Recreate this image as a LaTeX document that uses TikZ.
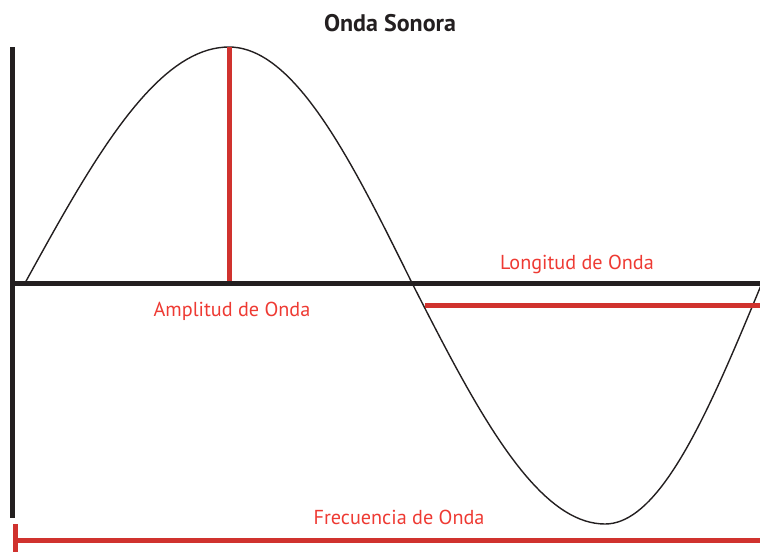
\documentclass[tikz,border=0pt]{standalone}
\usepackage{fontspec}
\setmainfont{PT Sans}
\definecolor{axisblack}{HTML}{231F20}
\definecolor{barred}{HTML}{D0322E}
\definecolor{labelred}{HTML}{EE3A33}
\begin{document}
\begin{tikzpicture}[x=1pt,y=-1pt,
  axis/.style={draw=axisblack,line width=5pt},
  redbar/.style={draw=barred,line width=5pt},
  wave/.style={draw=axisblack,line width=1.4pt},
  lbl/.style={text=labelred,font=\fontsize{20.2}{22}\selectfont,anchor=base,inner sep=0pt},
  ttl/.style={text=axisblack,font=\fontsize{24}{26}\selectfont\bfseries,anchor=base,inner sep=0pt}]
\useasboundingbox (0,0) rectangle (760,552);
% coordinates
\coordinate (vtop) at (12.5,47);
\coordinate (vbot) at (12.5,518);
\coordinate (hl) at (10,283);
\coordinate (hr) at (760,283);
\coordinate (atop) at (229,47);
\coordinate (abot) at (229,281);
\coordinate (ll) at (425,305);
\coordinate (lr) at (760,305);
\coordinate (fl) at (13,540);
\coordinate (fr) at (760,540);
\coordinate (ft) at (15.5,524);
\coordinate (fb) at (15.5,552);
% wave
\draw[wave] plot[domain=0:1,samples=40] ({25+204*\x},{283-236*sin(90*\x)})
  -- plot[domain=0:1,samples=40] ({229+183*\x},{283-236*cos(90*\x)})
  -- plot[domain=0:1,samples=40] ({412+193*\x},{283+241*sin(90*\x)})
  -- plot[domain=0:1,samples=40] ({605+157*\x},{283+241*cos(90*\x)});
% axes
\draw[axis] (vtop) -- (vbot);
\draw[axis] (hl) -- (hr);
% red bars
\draw[redbar] (atop) -- (abot);
\draw[redbar] (ll) -- (lr);
\draw[redbar] (fl) -- (fr);
\draw[redbar] (ft) -- (fb);
% labels
\node[ttl] (title) at (390,31) {Onda Sonora};
\node[lbl] (amp) at (232,316) {Amplitud de Onda};
\node[lbl] (lon) at (577,269) {Longitud de Onda};
\node[lbl] (fre) at (399,524) {Frecuencia de Onda};
\end{tikzpicture}
\end{document}
